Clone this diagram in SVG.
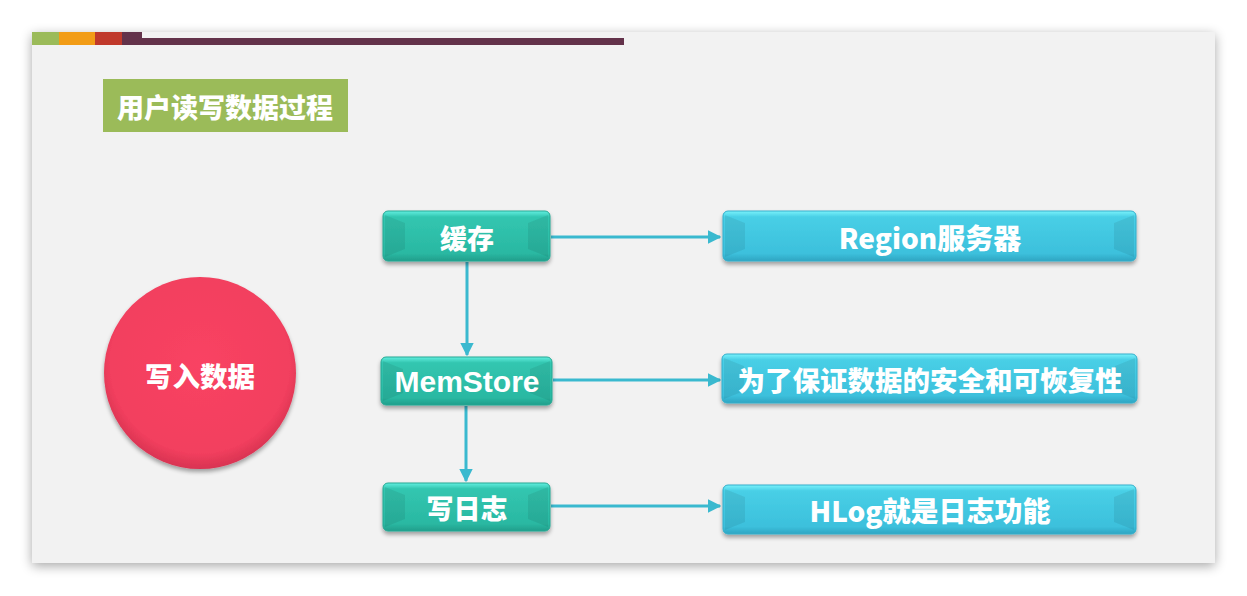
<svg xmlns="http://www.w3.org/2000/svg" width="1247" height="596" viewBox="0 0 1247 596">
  <defs>
    <filter id="slideShadow" x="-5%" y="-5%" width="110%" height="112%">
      <feGaussianBlur in="SourceAlpha" stdDeviation="6"/>
      <feOffset dx="0" dy="3"/>
      <feComponentTransfer><feFuncA type="linear" slope="0.35"/></feComponentTransfer>
      <feMerge><feMergeNode/><feMergeNode in="SourceGraphic"/></feMerge>
    </filter>
    <filter id="boxShadow" x="-5%" y="-20%" width="110%" height="150%">
      <feGaussianBlur in="SourceAlpha" stdDeviation="2"/>
      <feOffset dx="0" dy="3"/>
      <feComponentTransfer><feFuncA type="linear" slope="0.35"/></feComponentTransfer>
      <feMerge><feMergeNode/><feMergeNode in="SourceGraphic"/></feMerge>
    </filter>
    <linearGradient id="tealFill" x1="0" y1="0" x2="0" y2="1">
      <stop offset="0" stop-color="#63efe0"/>
      <stop offset="0.12" stop-color="#32c6b0"/>
      <stop offset="0.85" stop-color="#2ab8a2"/>
      <stop offset="1" stop-color="#229e8b"/>
    </linearGradient>
    <linearGradient id="blueFill" x1="0" y1="0" x2="0" y2="1">
      <stop offset="0" stop-color="#7af2fb"/>
      <stop offset="0.12" stop-color="#48cfe6"/>
      <stop offset="0.85" stop-color="#3cc0dc"/>
      <stop offset="1" stop-color="#2fa5c2"/>
    </linearGradient>
    <radialGradient id="redFill" cx="0.5" cy="0.45" r="0.55">
      <stop offset="0" stop-color="#f94363"/>
      <stop offset="0.85" stop-color="#f23f5e"/>
      <stop offset="1" stop-color="#d83352"/>
    </radialGradient>
    <marker id="arrow" viewBox="0 0 10 10" refX="9" refY="5" markerWidth="4.5" markerHeight="4.5" orient="auto" markerUnits="strokeWidth">
      <path d="M0,0 L10,5 L0,10 z" fill="#3ab9cf"/>
    </marker>
    <style>
      .label { font-family: "Noto Sans CJK SC", "Liberation Sans", sans-serif; font-weight: 900; fill: #ffffff; text-anchor: middle; dominant-baseline: central; }
      .latin { font-family: "Liberation Sans", "Noto Sans CJK SC", sans-serif; font-weight: 700; fill: #ffffff; text-anchor: middle; dominant-baseline: central; }
      .link { stroke: #3ab9cf; stroke-width: 3; fill: none; marker-end: url(#arrow); }
      .teal { fill: url(#tealFill); stroke: #27a893; stroke-width: 1; }
      .blue { fill: url(#blueFill); stroke: #32aecb; stroke-width: 1; }
      .bevel { fill: #000000; opacity: 0.07; }
    </style>
  </defs>

  <!-- page -->
  <rect x="0" y="0" width="1247" height="596" fill="#ffffff"/>
  <rect x="32" y="32" width="1183" height="531" fill="#f2f2f2" filter="url(#slideShadow)"/>

  <!-- accent strip -->
  <g id="accent">
    <rect x="32" y="32" width="27" height="13" fill="#9bbb59"/>
    <rect x="59" y="32" width="36" height="13" fill="#f29c16"/>
    <rect x="95" y="32" width="27" height="13" fill="#c0392b"/>
    <rect x="122" y="32" width="20" height="13" fill="#63324a"/>
    <rect x="142" y="38" width="482" height="7" fill="#63324a"/>
  </g>

  <!-- heading -->
  <g id="title">
    <rect x="103" y="79" width="245" height="53" fill="#9bbb59"/>
    <text class="label" x="225" y="106" font-size="27">用户读写数据过程</text>
  </g>

  <!-- connectors -->
  <g id="connectors">
    <line class="link" x1="551" y1="237" x2="720" y2="237"/>
    <line class="link" x1="553" y1="380" x2="720" y2="380"/>
    <line class="link" x1="551" y1="506" x2="720" y2="506"/>
    <line class="link" x1="467" y1="262" x2="467" y2="355"/>
    <line class="link" x1="466" y1="406" x2="466" y2="481"/>
  </g>

  <!-- source node -->
  <g id="node-write">
    <circle cx="200" cy="373" r="96" fill="url(#redFill)" filter="url(#boxShadow)"/>
    <text class="label" x="200" y="375" font-size="27.5">写入数据</text>
  </g>

  <!-- process steps -->
  <g id="node-cache">
    <rect class="teal" x="383" y="211" width="167" height="50" rx="5" filter="url(#boxShadow)"/>
    <path class="bevel" d="M385,215 L405,223 L405,249 L385,257 Z M548,215 L528,223 L528,249 L548,257 Z"/>
    <text class="label" x="467" y="237" font-size="27">缓存</text>
  </g>
  <g id="node-memstore">
    <rect class="teal" x="381" y="357" width="171" height="48" rx="5" filter="url(#boxShadow)"/>
    <path class="bevel" d="M383,361 L403,369 L403,393 L383,401 Z M550,361 L530,369 L530,393 L550,401 Z"/>
    <text class="latin" x="467" y="381" font-size="30">MemStore</text>
  </g>
  <g id="node-log">
    <rect class="teal" x="383" y="483" width="167" height="48" rx="5" filter="url(#boxShadow)"/>
    <path class="bevel" d="M385,487 L405,495 L405,519 L385,527 Z M548,487 L528,495 L528,519 L548,527 Z"/>
    <text class="label" x="467" y="507" font-size="27">写日志</text>
  </g>

  <!-- descriptions -->
  <g id="node-region">
    <rect class="blue" x="723" y="211" width="413" height="50" rx="5" filter="url(#boxShadow)"/>
    <path class="bevel" d="M725,215 L745,223 L745,249 L725,257 Z M1134,215 L1114,223 L1114,249 L1134,257 Z"/>
    <text class="label" x="930" y="237" font-size="28">Region服务器</text>
  </g>
  <g id="node-safety">
    <rect class="blue" x="722" y="354" width="415" height="49" rx="5" filter="url(#boxShadow)"/>
    <path class="bevel" d="M724,358 L744,366 L744,391 L724,399 Z M1135,358 L1115,366 L1115,391 L1135,399 Z"/>
    <text class="label" x="930" y="379" font-size="27.5">为了保证数据的安全和可恢复性</text>
  </g>
  <g id="node-hlog">
    <rect class="blue" x="723" y="485" width="413" height="49" rx="5" filter="url(#boxShadow)"/>
    <path class="bevel" d="M725,489 L745,497 L745,522 L725,530 Z M1134,489 L1114,497 L1114,522 L1134,530 Z"/>
    <text class="label" x="930" y="510" font-size="28">HLog就是日志功能</text>
  </g>
</svg>
